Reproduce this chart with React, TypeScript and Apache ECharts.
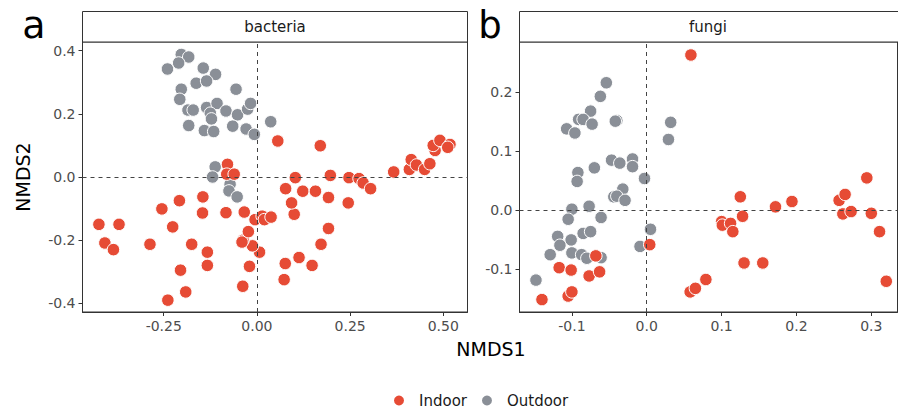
import React, { useEffect, useRef } from "react";
import * as echarts from "echarts";

// Panel a: bacteria (NMDS1, NMDS2)
const bacteriaOutdoor: [number, number][] = [
  [-0.203, 0.388], [-0.183, 0.38], [-0.24, 0.342], [-0.21, 0.361], [-0.144, 0.345],
  [-0.111, 0.325], [-0.163, 0.297], [-0.135, 0.304], [-0.203, 0.278], [-0.056, 0.278],
  [-0.207, 0.246], [-0.185, 0.212], [-0.171, 0.212], [-0.135, 0.22], [-0.107, 0.233],
  [-0.125, 0.202], [-0.122, 0.184], [-0.083, 0.209], [-0.052, 0.197], [-0.025, 0.215],
  [-0.017, 0.233], [-0.183, 0.163], [-0.141, 0.147], [-0.116, 0.144], [-0.065, 0.161],
  [-0.029, 0.152], [-0.007, 0.135], [0.037, 0.175], [-0.112, 0.032], [-0.119, 0.0],
  [-0.072, -0.023], [-0.075, -0.044], [-0.053, -0.063],
];
const bacteriaIndoor: [number, number][] = [
  [-0.424, -0.15], [-0.37, -0.15], [-0.408, -0.209], [-0.385, -0.23], [-0.287, -0.213],
  [-0.255, -0.101], [-0.226, -0.158], [-0.208, -0.075], [-0.239, -0.39], [-0.191, -0.364],
  [-0.205, -0.295], [-0.175, -0.213], [-0.145, -0.063], [-0.146, -0.114], [-0.133, -0.238],
  [-0.133, -0.28], [-0.083, -0.113], [-0.034, -0.111], [-0.038, -0.346], [-0.02, -0.283],
  [0.007, -0.238], [-0.012, -0.218], [-0.037, -0.2], [-0.04, -0.206], [-0.023, -0.173],
  [-0.005, -0.135], [0.014, -0.124], [0.02, -0.135], [0.038, -0.127], [-0.079, 0.04],
  [-0.081, 0.009], [-0.061, 0.009], [0.073, -0.325], [0.076, -0.274], [0.1, -0.118],
  [0.093, -0.082], [0.077, -0.037], [0.103, -0.002], [0.123, -0.045], [0.157, -0.045],
  [0.192, -0.065], [0.192, -0.163], [0.172, -0.213], [0.113, -0.255], [0.148, -0.28],
  [0.197, 0.005], [0.247, -0.002], [0.245, -0.082], [0.274, -0.005], [0.285, -0.019],
  [0.305, -0.037], [0.367, 0.016], [0.409, 0.024], [0.414, 0.055], [0.428, 0.038],
  [0.45, 0.024], [0.464, 0.042], [0.478, 0.084], [0.473, 0.1], [0.491, 0.116],
  [0.518, 0.103], [0.512, 0.094], [0.056, 0.114], [0.17, 0.099],
];

// Panel b: fungi (NMDS1, NMDS2)
const fungiOutdoor: [number, number][] = [
  [-0.054, 0.216], [-0.062, 0.193], [-0.075, 0.168], [-0.091, 0.154], [-0.085, 0.154],
  [-0.073, 0.146], [-0.107, 0.138], [-0.096, 0.131], [-0.04, 0.152], [-0.042, 0.151],
  [0.032, 0.149], [0.029, 0.12], [-0.047, 0.085], [-0.036, 0.08], [-0.019, 0.087],
  [-0.019, 0.074], [-0.07, 0.072], [-0.092, 0.064], [-0.093, 0.049], [-0.003, 0.054],
  [-0.032, 0.036], [-0.044, 0.023], [-0.04, 0.024], [-0.029, 0.017], [-0.1, 0.002],
  [-0.077, 0.007], [-0.105, -0.015], [-0.061, -0.012], [0.005, -0.032], [-0.119, -0.044],
  [-0.085, -0.039], [-0.075, -0.036], [-0.101, -0.05], [-0.116, -0.059], [-0.129, -0.075],
  [-0.1, -0.072], [-0.087, -0.075], [-0.08, -0.081], [-0.061, -0.08], [-0.009, -0.061],
  [-0.148, -0.118],
];
const fungiIndoor: [number, number][] = [
  [0.059, 0.263], [0.004, -0.058], [-0.068, -0.077], [-0.117, -0.097], [-0.101, -0.101],
  [-0.077, -0.111], [-0.063, -0.104], [-0.14, -0.151], [-0.105, -0.145], [-0.1, -0.138],
  [0.058, -0.138], [0.065, -0.132], [0.079, -0.117], [0.1, -0.019], [0.101, -0.025],
  [0.112, -0.022], [0.115, -0.036], [0.125, 0.023], [0.128, -0.01], [0.13, -0.089],
  [0.155, -0.089], [0.172, 0.006], [0.194, 0.015], [0.257, 0.017], [0.265, 0.027],
  [0.262, -0.006], [0.273, -0.002], [0.294, 0.055], [0.3, -0.005], [0.311, -0.036],
  [0.32, -0.12],
];

const bacteriaXTicks = [-0.25, 0, 0.25, 0.5];
const bacteriaYTicks = [-0.4, -0.2, 0, 0.2, 0.4];
const fungiXTicks = [-0.1, 0, 0.1, 0.2, 0.3];
const fungiYTicks = [-0.1, 0, 0.1, 0.2];

const RED = "#E64B35";
const GREY = "#8A8F97";
const FONT = "DejaVu Sans";

function axis(gridIndex: number, min: number, max: number, ticks: number[], digits: number, extra: any = {}) {
  return {
    type: "value",
    gridIndex,
    min,
    max,
    splitLine: { show: false },
    axisLine: { show: true, onZero: false, lineStyle: { color: "#333", width: 1 } },
    axisTick: { show: true, length: 4, customValues: ticks, lineStyle: { color: "#333" } },
    axisLabel: {
      customValues: ticks,
      formatter: (v: number) => v.toFixed(digits),
      color: "#4D4D4D",
      fontSize: 14,
      fontFamily: FONT,
      margin: 7,
    },
    ...extra,
  };
}

function pointSeries(name: string, color: string, data: [number, number][], idx: number) {
  return {
    name,
    type: "scatter",
    xAxisIndex: idx,
    yAxisIndex: idx,
    data,
    symbol: "circle",
    symbolSize: 12.5,
    z: 3,
    itemStyle: { color, borderColor: "#fff", borderWidth: 1, opacity: 1 },
  };
}

function refLines(idx: number) {
  return {
    name: "ref" + idx,
    type: "scatter",
    xAxisIndex: idx,
    yAxisIndex: idx,
    data: [],
    z: 1,
    markLine: {
      silent: true,
      symbol: "none",
      label: { show: false },
      animation: false,
      lineStyle: { type: [4, 4], color: "#444", width: 1 },
      data: [{ xAxis: 0 }, { yAxis: 0 }],
    },
  };
}

export default function App() {
  const ref = useRef<HTMLDivElement>(null);
  useEffect(() => {
    if (!ref.current) return;
    const chart = echarts.init(ref.current, undefined, { renderer: "svg" });
    chart.setOption({
      animation: false,
      backgroundColor: "#fff",
      textStyle: { fontFamily: FONT },
      grid: [
        { left: 82.5, top: 42, width: 385, height: 270, show: true, borderColor: "#333", borderWidth: 1, outerBoundsMode: "none" },
        { left: 519.5, top: 42, width: 378, height: 270, show: true, borderColor: "#333", borderWidth: 1, outerBoundsMode: "none" },
      ],
      xAxis: [
        axis(0, -0.468, 0.565, bacteriaXTicks, 2),
        axis(1, -0.17, 0.335, fungiXTicks, 1),
      ],
      yAxis: [
        axis(0, -0.4275, 0.4275, bacteriaYTicks, 1, {
          name: "NMDS2",
          nameLocation: "middle",
          nameGap: 50,
          nameTextStyle: { fontSize: 19, color: "#000", fontFamily: FONT },
        }),
        axis(1, -0.172, 0.285, fungiYTicks, 1),
      ],
      legend: {
        data: ["Indoor", "Outdoor"],
        left: 387,
        top: 388,
        icon: "circle",
        itemWidth: 12,
        itemHeight: 12,
        itemGap: 13,
        textStyle: { fontSize: 15, color: "#1a1a1a", fontFamily: FONT, padding: [0, 0, 0, 9] },
      },
      graphic: [
        { type: "rect", shape: { x: 82.5, y: 11.5, width: 385, height: 30.5 }, style: { fill: "#fff", stroke: "#333", lineWidth: 1 } },
        { type: "rect", shape: { x: 519.5, y: 11.5, width: 400, height: 30.5 }, style: { fill: "#fff", stroke: "#333", lineWidth: 1 } },
        { type: "text", x: 275, y: 27, style: { text: "bacteria", fontSize: 15, fontFamily: FONT, fill: "#1a1a1a", align: "center", verticalAlign: "middle" } },
        { type: "text", x: 708, y: 27, style: { text: "fungi", fontSize: 15, fontFamily: FONT, fill: "#1a1a1a", align: "center", verticalAlign: "middle" } },
        { type: "text", x: 34, y: 25, style: { text: "a", fontSize: 38, fontFamily: FONT, fill: "#000", align: "center", verticalAlign: "middle" } },
        { type: "text", x: 490, y: 25, style: { text: "b", fontSize: 37, fontFamily: FONT, fill: "#000", align: "center", verticalAlign: "middle" } },
        { type: "text", x: 491, y: 349, style: { text: "NMDS1", fontSize: 19, fontFamily: FONT, fill: "#000", align: "center", verticalAlign: "middle" } },
      ],
      series: [
        refLines(0),
        refLines(1),
        pointSeries("Outdoor", GREY, bacteriaOutdoor, 0),
        pointSeries("Indoor", RED, bacteriaIndoor, 0),
        pointSeries("Outdoor", GREY, fungiOutdoor, 1),
        pointSeries("Indoor", RED, fungiIndoor, 1),
      ],
    });
    return () => chart.dispose();
  }, []);
  return <div ref={ref} style={{ width: 898, height: 411, position: "absolute", left: 0, top: 0 }} />;
}
